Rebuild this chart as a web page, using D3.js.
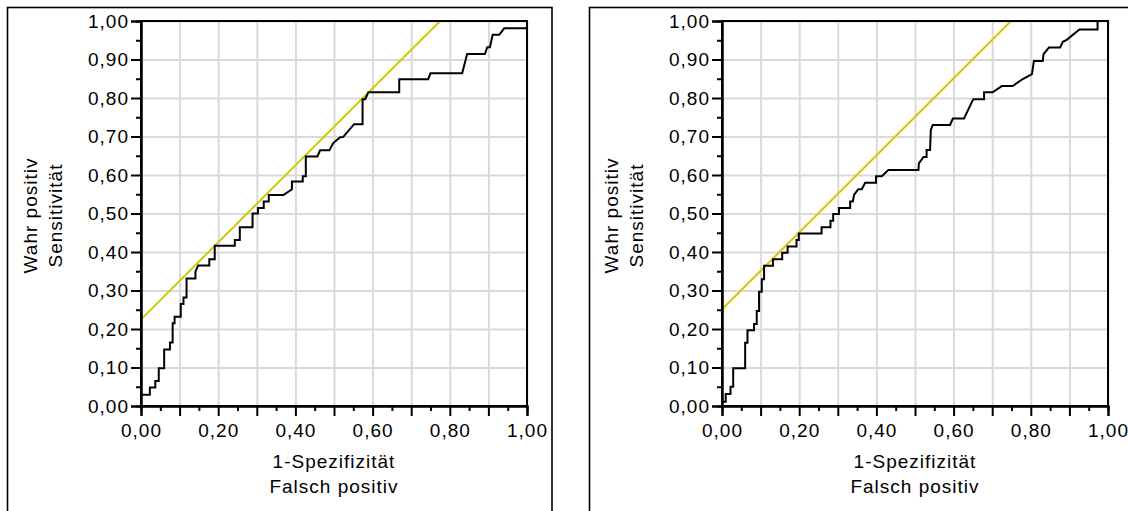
<!DOCTYPE html>
<html>
<head>
<meta charset="utf-8">
<script src="https://cdn.jsdelivr.net/npm/d3@7"></script>
<style>
  html, body { margin: 0; padding: 0; background: #ffffff; }
  svg { display: block; }
  text { font-family: "Liberation Sans", Arial, sans-serif; fill: #000; }
</style>
</head>
<body>
<svg id="chart" width="1128" height="511"></svg>
<script>
// ---------- data ----------
const majorTicks = [0, 0.1, 0.2, 0.3, 0.4, 0.5, 0.6, 0.7, 0.8, 0.9, 1.0];
const minorTicks = [0.05, 0.15, 0.25, 0.35, 0.45, 0.55, 0.65, 0.75, 0.85, 0.95];
const yTickLabels = ["0,00","0,10","0,20","0,30","0,40","0,50","0,60","0,70","0,80","0,90","1,00"];
const xTickLabels = ["0,00","","0,20","","0,40","","0,60","","0,80","","1,00"];
const xTitle = ["1-Spezifizität", "Falsch positiv"];
const yTitle = ["Wahr positiv", "Sensitivität"];

// left ROC curve (1-specificity, sensitivity)
const leftFpr = [0,0,0.023,0.023,0.037,0.037,0.046,0.046,0.060,0.060,0.075,0.075,0.082,0.082,0.087,0.087,
  0.103,0.103,0.110,0.110,0.118,0.118,0.141,0.141,0.148,0.177,0.177,0.191,0.191,0.243,0.243,0.256,0.256,
  0.289,0.289,0.303,0.303,0.318,0.318,0.331,0.331,0.369,0.391,0.391,0.419,0.419,0.427,0.427,0.457,0.464,
  0.488,0.498,0.516,0.524,0.552,0.574,0.574,0.581,0.589,0.669,0.669,0.744,0.750,0.832,0.845,0.891,0.897,
  0.904,0.911,0.928,0.941,1.0,1.0];
const leftTpr = [0,0.029,0.029,0.048,0.048,0.065,0.065,0.098,0.098,0.147,0.147,0.165,0.165,0.215,0.215,0.232,
  0.232,0.265,0.265,0.282,0.282,0.331,0.331,0.349,0.365,0.365,0.381,0.381,0.416,0.416,0.431,0.431,0.464,
  0.464,0.500,0.500,0.514,0.514,0.531,0.531,0.548,0.548,0.563,0.583,0.583,0.597,0.597,0.648,0.648,0.664,
  0.664,0.683,0.698,0.699,0.732,0.732,0.797,0.797,0.815,0.815,0.849,0.849,0.864,0.864,0.914,0.914,0.932,
  0.932,0.964,0.964,0.981,0.981,1.0];
const leftRefX = [0, 0.775];
const leftRefY = [0.225, 1.0];

// right ROC curve
const rightFpr = [0,0,0.0096,0.0096,0.022,0.022,0.029,0.029,0.060,0.060,0.066,0.066,0.083,0.083,0.090,0.090,
  0.096,0.096,0.103,0.103,0.109,0.109,0.132,0.132,0.156,0.156,0.170,0.170,0.193,0.193,0.199,0.199,0.258,
  0.258,0.281,0.281,0.288,0.288,0.303,0.303,0.332,0.332,0.339,0.342,0.353,0.362,0.371,0.399,0.399,0.414,
  0.431,0.509,0.510,0.522,0.530,0.530,0.539,0.541,0.546,0.591,0.598,0.627,0.651,0.679,0.679,0.701,0.725,
  0.753,0.777,0.803,0.808,0.831,0.833,0.847,0.876,0.883,0.893,0.926,0.973,0.973,1.0];
const rightTpr = [0,0.011,0.011,0.031,0.031,0.050,0.050,0.098,0.098,0.164,0.164,0.197,0.197,0.213,0.213,0.247,
  0.247,0.297,0.297,0.329,0.329,0.364,0.364,0.381,0.381,0.398,0.398,0.414,0.414,0.431,0.431,0.448,0.448,
  0.464,0.464,0.481,0.481,0.499,0.499,0.514,0.514,0.531,0.531,0.548,0.563,0.563,0.580,0.580,0.597,0.597,
  0.613,0.613,0.630,0.647,0.647,0.665,0.665,0.717,0.730,0.730,0.747,0.747,0.797,0.797,0.815,0.815,0.831,
  0.831,0.848,0.862,0.896,0.896,0.914,0.931,0.931,0.946,0.951,0.978,0.978,1.0,1.0];
const rightRefX = [0, 0.749];
const rightRefY = [0.251, 1.0];

// ---------- drawing ----------
const svg = d3.select("#chart");
const plotW = 386, plotH = 385;
const fontSize = 19, letterSp = 1.0;
const fontFam = '"Liberation Sans", Arial, sans-serif';

function drawPanel(offX, frameX, frameW, fpr, tpr, refX, refY) {
  // outer frame (extends past the bottom of the picture)
  svg.append("rect")
    .attr("x", frameX).attr("y", 7.5)
    .attr("width", frameW).attr("height", 600)
    .attr("fill", "none").attr("stroke", "#000").attr("stroke-width", 1.6);

  const left = offX, top = 21;
  const g = svg.append("g").attr("transform", `translate(${left},${top})`);
  const x = d3.scaleLinear().domain([0, 1]).range([0, plotW]);
  const y = d3.scaleLinear().domain([0, 1]).range([plotH, 0]);

  // grid
  const gx = g.append("g").attr("transform", `translate(0,${plotH})`)
    .call(d3.axisBottom(x).tickValues(majorTicks).tickSize(-plotH).tickFormat(""));
  const gy = g.append("g")
    .call(d3.axisLeft(y).tickValues(majorTicks).tickSize(-plotW).tickFormat(""));
  [gx, gy].forEach(a => {
    a.select(".domain").remove();
    a.selectAll("line").attr("stroke", "#d9d9d9").attr("stroke-width", 2);
  });

  // reference (yellow) line
  const line = d3.line().x(d => x(d[0])).y(d => y(d[1]));
  g.append("path")
    .datum(refX.map((v, i) => [v, refY[i]]))
    .attr("d", line).attr("fill", "none")
    .attr("stroke", "#d4c800").attr("stroke-width", 2);

  // ROC curve
  g.append("path")
    .datum(fpr.map((v, i) => [v, tpr[i]]))
    .attr("d", line).attr("fill", "none")
    .attr("stroke", "#000").attr("stroke-width", 2)
    .attr("stroke-linejoin", "miter");

  // plot frame
  g.append("rect").attr("x", 0).attr("y", 0).attr("width", plotW).attr("height", plotH)
    .attr("fill", "none").attr("stroke", "#000").attr("stroke-width", 2);

  // minor ticks
  const mx = g.append("g").attr("transform", `translate(0,${plotH})`)
    .call(d3.axisBottom(x).tickValues(minorTicks).tickSize(5).tickFormat(""));
  const my = g.append("g")
    .call(d3.axisLeft(y).tickValues(minorTicks).tickSize(5).tickFormat(""));
  // major ticks + labels
  const ax = g.append("g").attr("transform", `translate(0,${plotH})`)
    .call(d3.axisBottom(x).tickValues(majorTicks).tickSize(10).tickPadding(8)
      .tickFormat((d, i) => xTickLabels[i]));
  const ay = g.append("g")
    .call(d3.axisLeft(y).tickValues(majorTicks).tickSize(10).tickPadding(2)
      .tickFormat((d, i) => yTickLabels[i]));
  [mx, my, ax, ay].forEach(a => {
    a.attr("font-size", fontSize).attr("font-family", fontFam);
    a.select(".domain").attr("stroke", "#000").attr("stroke-width", 2);
    a.selectAll("line").attr("stroke", "#000").attr("stroke-width", 2);
    a.selectAll("text").attr("font-size", fontSize).attr("letter-spacing", letterSp)
      .attr("font-family", fontFam).attr("fill", "#000");
  });

  // x title
  xTitle.forEach((t, i) => {
    g.append("text").attr("x", plotW / 2).attr("y", plotH + 62 + i * 25)
      .attr("text-anchor", "middle").attr("font-size", fontSize)
      .attr("font-family", fontFam)
      .attr("letter-spacing", letterSp).text(t);
  });
  // y title
  yTitle.forEach((t, i) => {
    g.append("text")
      .attr("transform", `translate(${-104 + i * 25},${plotH / 2 + 2}) rotate(-90)`)
      .attr("text-anchor", "middle").attr("font-size", fontSize)
      .attr("font-family", fontFam)
      .attr("letter-spacing", letterSp).text(t);
  });
}

drawPanel(141, 7.5, 544.5, leftFpr, leftTpr, leftRefX, leftRefY);
drawPanel(722, 589.5, 600, rightFpr, rightTpr, rightRefX, rightRefY);
</script>
</body>
</html>
